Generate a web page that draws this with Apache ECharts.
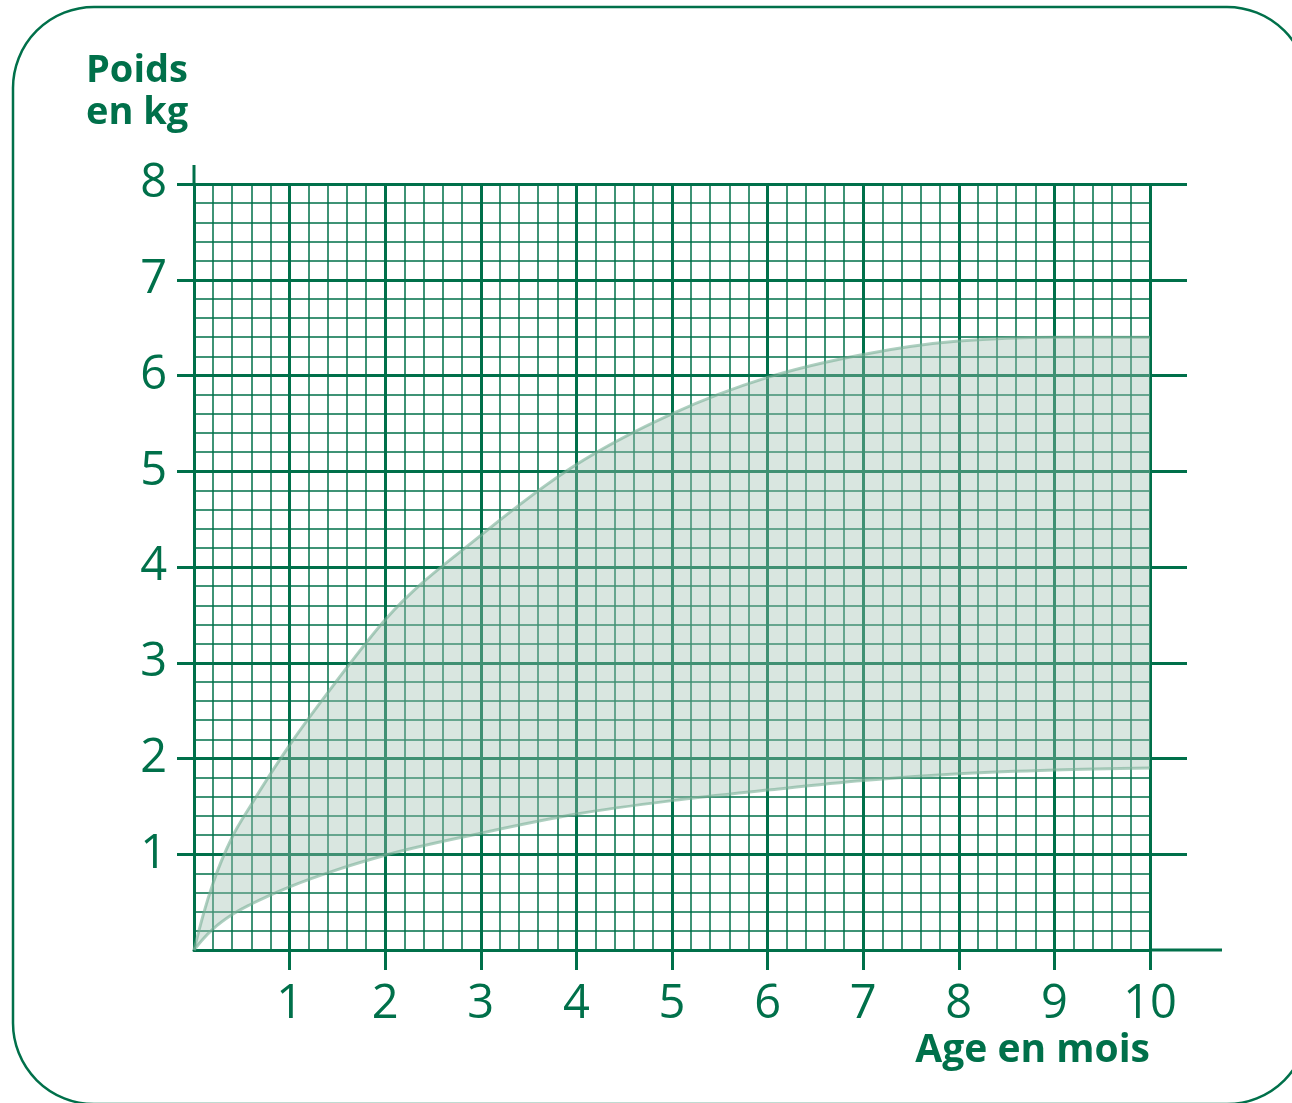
<!DOCTYPE html>
<html>
<head>
<meta charset="utf-8">
<script src="https://cdn.jsdelivr.net/npm/echarts@6/dist/echarts.min.js"></script>
<style>
  html, body { margin: 0; padding: 0; background: #fff; }
  #main { width: 1292px; height: 1103px; }
</style>
</head>
<body>
<div id="main"></div>
<script>
// données
const ages = [0, 0.1, 0.2, 0.4, 0.6, 1, 1.5, 2, 3, 4, 5, 6, 7, 8, 9, 10]
const poidsHaut = [0, 0.38, 0.7, 1.18, 1.52, 2.14, 2.82, 3.45, 4.33, 5.07, 5.6, 5.98, 6.22, 6.36, 6.4, 6.4]
const poidsBas = [0, 0.12, 0.22, 0.37, 0.48, 0.66, 0.84, 0.99, 1.22, 1.42, 1.56, 1.67, 1.77, 1.84, 1.88, 1.9]
const xTicks = [1, 2, 3, 4, 5, 6, 7, 8, 9, 10]
const yTicks = [1, 2, 3, 4, 5, 6, 7, 8]

const vert = '#00704a'
const bord = 'rgba(120,175,150,0.6)'

// courbe monotone (comme d3 monotoneX) -> segments de Bézier en pixels
function segments(pts) {
    const n = pts.length
    const m = new Array(n)
    const s = []
    for (let i = 0; i < n - 1; i++) {
        s.push((pts[i + 1][1] - pts[i][1]) / (pts[i + 1][0] - pts[i][0]))
    }
    for (let i = 1; i < n - 1; i++) {
        const h0 = pts[i][0] - pts[i - 1][0]
        const h1 = pts[i + 1][0] - pts[i][0]
        const p = (s[i - 1] * h1 + s[i] * h0) / (h0 + h1)
        m[i] = (Math.sign(s[i - 1]) + Math.sign(s[i])) *
            Math.min(Math.abs(s[i - 1]), Math.abs(s[i]), 0.5 * Math.abs(p)) || 0
    }
    m[0] = (3 * s[0] - m[1]) / 2
    m[n - 1] = (3 * s[n - 2] - m[n - 2]) / 2
    const segs = []
    for (let i = 0; i < n - 1; i++) {
        const dx = (pts[i + 1][0] - pts[i][0]) / 3
        segs.push([
            pts[i],
            [pts[i][0] + dx, pts[i][1] + dx * m[i]],
            [pts[i + 1][0] - dx, pts[i + 1][1] - dx * m[i + 1]],
            pts[i + 1]
        ])
    }
    return segs
}

function pathFrom(segs, start) {
    let d = start ? 'M' + segs[0][0].join(',') : ''
    segs.forEach(sg => {
        d += ' C' + sg[1].join(',') + ' ' + sg[2].join(',') + ' ' + sg[3].join(',')
    })
    return d
}

function renderBande(params, api) {
    const haut = ages.map((a, i) => api.coord([a, poidsHaut[i]]))
    const bas = ages.map((a, i) => api.coord([a, poidsBas[i]]))
    const segH = segments(haut)
    const segB = segments(bas)
    const segBinv = segB.slice().reverse().map(sg => [sg[3], sg[2], sg[1], sg[0]])
    const fond = pathFrom(segH, true) + ' L' + bas[bas.length - 1].join(',') +
        pathFrom(segBinv, false) + ' Z'
    return {
        type: 'group',
        children: [
            {
                type: 'path',
                shape: { pathData: fond },
                style: { fill: 'rgba(160,192,177,0.4)', stroke: null }
            },
            {
                type: 'path',
                shape: { pathData: pathFrom(segH, true) },
                style: { fill: null, stroke: bord, lineWidth: 3 }
            },
            {
                type: 'path',
                shape: { pathData: pathFrom(segB, true) },
                style: { fill: null, stroke: bord, lineWidth: 3 }
            }
        ]
    }
}

var myChart = echarts.init(document.getElementById('main'))

var option = {
    animation: false,
    title: [
        {
            text: 'Poids\nen kg',
            left: 86,
            top: 50,
            padding: 0,
            textStyle: {
                fontFamily: 'Open Sans',
                fontWeight: 'bold',
                fontSize: 38,
                lineHeight: 42,
                color: vert
            }
        },
        {
            text: 'Age en mois',
            right: 142,
            top: 1031,
            padding: 0,
            textStyle: {
                fontFamily: 'Open Sans',
                fontWeight: 'bold',
                fontSize: 39,
                color: vert
            }
        }
    ],
    grid: {
        left: 194,
        right: 142,
        top: 184,
        bottom: 153
    },
    xAxis: {
        type: 'value',
        min: 0,
        max: 10,
        interval: 1,
        axisLine: { lineStyle: { color: vert, width: 3 } },
        axisTick: {
            show: true,
            customValues: xTicks,
            length: 20,
            lineStyle: { color: vert, width: 3 }
        },
        axisLabel: {
            customValues: xTicks,
            margin: 31,
            fontFamily: 'Open Sans',
            fontSize: 47,
            color: vert
        },
        splitLine: { show: true, lineStyle: { color: vert, width: 3 } },
        minorTick: { show: false, splitNumber: 5 },
        minorSplitLine: { show: true, lineStyle: { color: vert, width: 1.5 } }
    },
    yAxis: [
        {
            type: 'value',
            min: 0,
            max: 8,
            interval: 1,
            axisLine: { show: true, lineStyle: { color: vert, width: 3 } },
            axisTick: {
                show: true,
                customValues: yTicks,
                length: 17,
                lineStyle: { color: vert, width: 3 }
            },
            axisLabel: {
                customValues: yTicks,
                margin: 27,
                fontFamily: 'Open Sans',
                fontSize: 47,
                color: vert
            },
            splitLine: { show: true, lineStyle: { color: vert, width: 3 } },
            minorTick: { show: false, splitNumber: 5 },
            minorSplitLine: { show: true, lineStyle: { color: vert, width: 1.5 } }
        },
        {
            // prolongement des traits principaux à droite
            type: 'value',
            position: 'right',
            min: 0,
            max: 8,
            interval: 1,
            axisLine: { show: false },
            axisTick: {
                show: true,
                customValues: yTicks,
                length: 37,
                lineStyle: { color: vert, width: 3 }
            },
            axisLabel: { show: false },
            splitLine: { show: false }
        }
    ],
    series: [
        {
            type: 'custom',
            renderItem: renderBande,
            data: [[0, 0]],
            clip: false,
            silent: true
        }
    ]
}

myChart.setOption(option)

// cadre arrondi + prolongements des axes
const p08 = myChart.convertToPixel({ gridIndex: 0 }, [0, 8])
const p100 = myChart.convertToPixel({ gridIndex: 0 }, [10, 0])

myChart.setOption({
    graphic: [
        {
            type: 'rect',
            shape: { x: 13, y: 7, width: 1295, height: 1097, r: 81 },
            style: { fill: 'none', stroke: vert, lineWidth: 2.5 },
            z: 10
        },
        {
            type: 'line',
            shape: { x1: p08[0], y1: p08[1], x2: p08[0], y2: p08[1] - 19 },
            style: { stroke: vert, lineWidth: 3 }
        },
        {
            type: 'line',
            shape: { x1: p100[0], y1: p100[1], x2: p100[0] + 72, y2: p100[1] },
            style: { stroke: vert, lineWidth: 3 }
        }
    ]
})
</script>
</body>
</html>
